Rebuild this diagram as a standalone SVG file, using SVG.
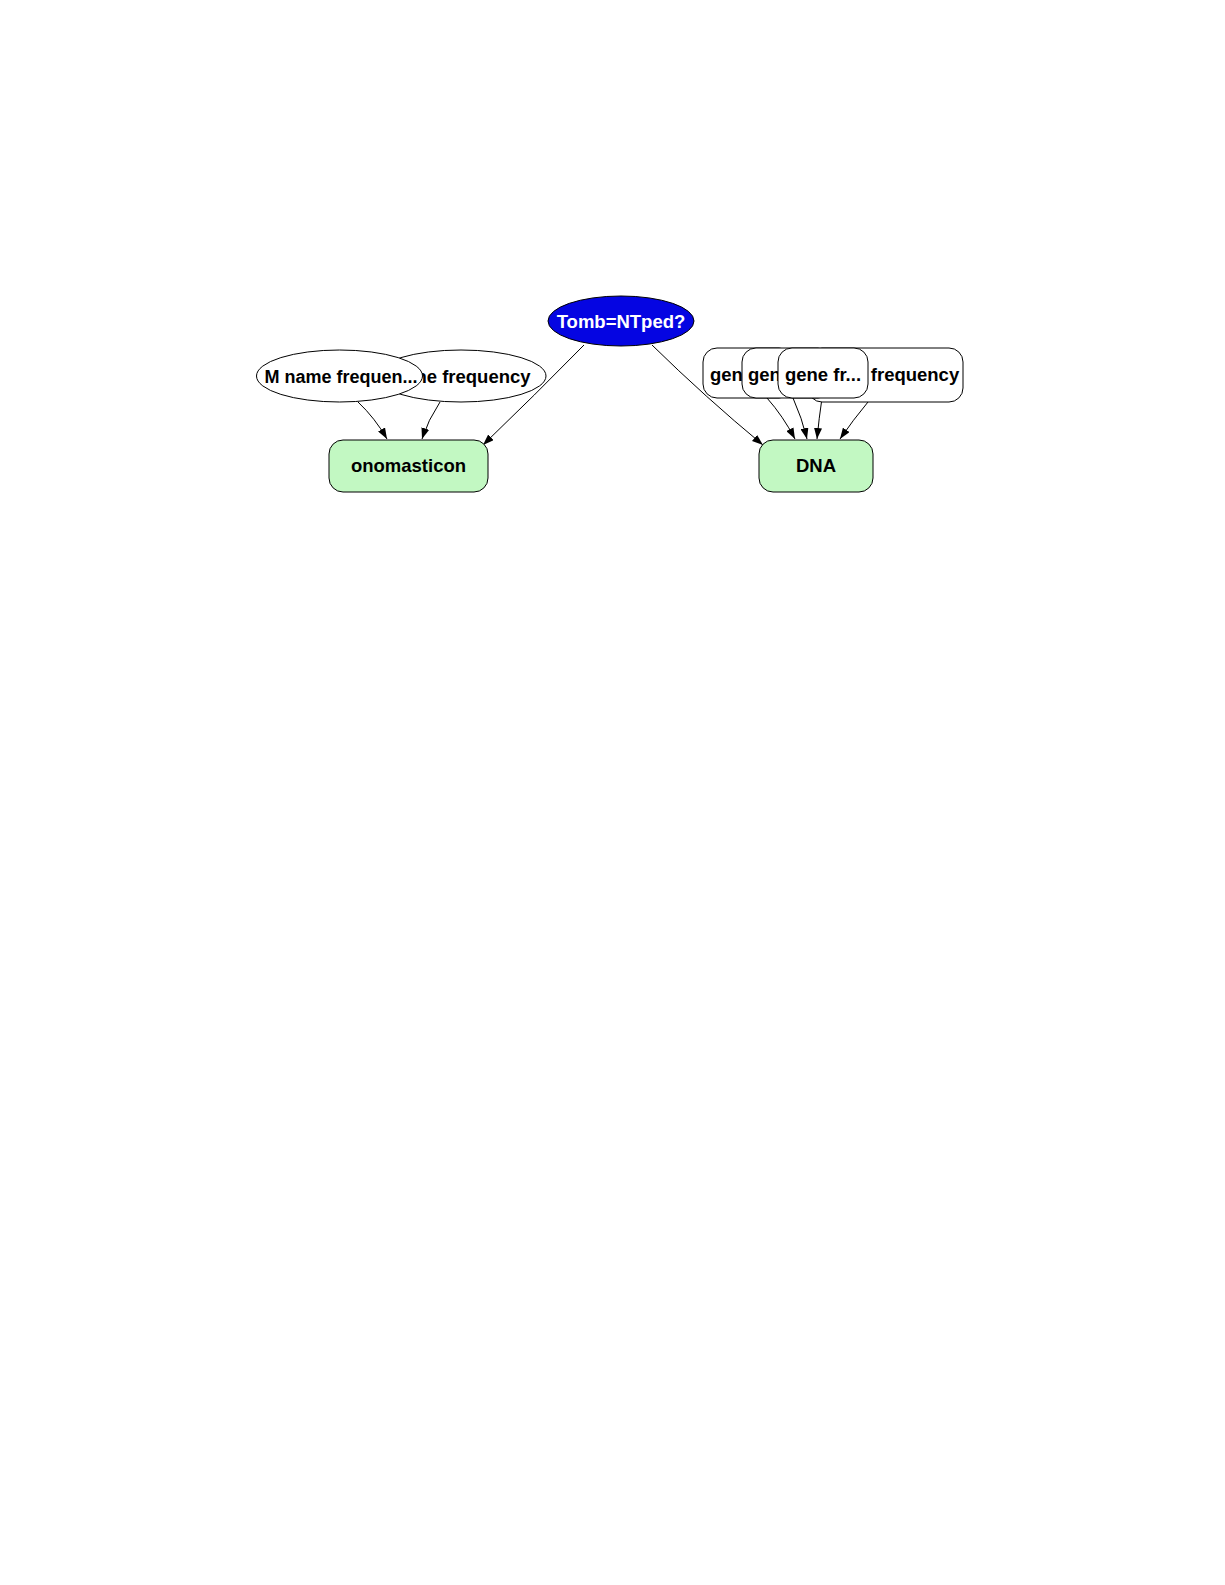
<svg xmlns="http://www.w3.org/2000/svg" width="1225" height="1585" viewBox="0 0 1225 1585">
<defs>
<style>
text{font-family:"Liberation Sans",Arial,sans-serif;font-weight:bold;font-size:18.5px;text-anchor:middle}
.s{text-anchor:start}
.w{fill:#fff;stroke:#000;stroke-width:1}
.g{fill:#c2f8c2;stroke:#000;stroke-width:1}
.e{fill:none;stroke:#000;stroke-width:1}
</style>
<marker id="ah" viewBox="0 0 11 8" refX="11" refY="4" markerWidth="11" markerHeight="8" markerUnits="userSpaceOnUse" orient="auto"><path d="M0,0L11,4L0,8z" fill="#000"/></marker>
</defs>
<rect width="1225" height="1585" fill="#fff"/>
<g id="connectors">
<path class="e" d="M358,402 Q375,418 387,439" marker-end="url(#ah)"/>
<path class="e" d="M440,402 Q428,420 422,439" marker-end="url(#ah)"/>
<path class="e" d="M584,345 Q535,395 483,445" marker-end="url(#ah)"/>
<path class="e" d="M652,345 Q705,397 763,445" marker-end="url(#ah)"/>
<path class="e" d="M767,398 Q783,416 795,439" marker-end="url(#ah)"/>
<path class="e" d="M793,398 Q802,418 807,439" marker-end="url(#ah)"/>
<path class="e" d="M822,398 Q819,418 817,439" marker-end="url(#ah)"/>
<path class="e" d="M868,402 Q853,420 840,439" marker-end="url(#ah)"/>
</g>
<g id="tomb"><ellipse cx="621" cy="321" rx="73" ry="25" fill="#0505e2" stroke="#000"/><text x="621" y="327.5" fill="#fff">Tomb=NTped?</text></g>
<g id="fname"><ellipse class="w" cx="461" cy="376" rx="85" ry="26"/><text x="473" y="382.5">ne frequency</text></g>
<g id="mname"><ellipse class="w" cx="339.5" cy="376" rx="83" ry="26"/><text x="341" y="382.5" style="font-size:18px">M name frequen...</text></g>
<g id="onomasticon"><rect class="g" x="329" y="440" width="159" height="52" rx="14"/><text x="408.5" y="472">onomasticon</text></g>
<g id="dna"><rect class="g" x="759" y="440" width="114" height="52" rx="14"/><text x="816" y="472">DNA</text></g>
<g id="gene4"><rect class="w" x="808" y="348" width="155" height="54" rx="14"/><text x="915" y="380.5">frequency</text></g>
<g id="gene1"><rect class="w" x="703" y="348" width="90" height="50" rx="14"/><text class="s" x="710" y="380.5">gen</text></g>
<g id="gene2"><rect class="w" x="742" y="348" width="90" height="50" rx="14"/><text class="s" x="748" y="380.5">gen</text></g>
<g id="gene3"><rect class="w" x="778" y="348" width="90" height="50" rx="14"/><text x="823" y="380.5">gene fr...</text></g>
</svg>
